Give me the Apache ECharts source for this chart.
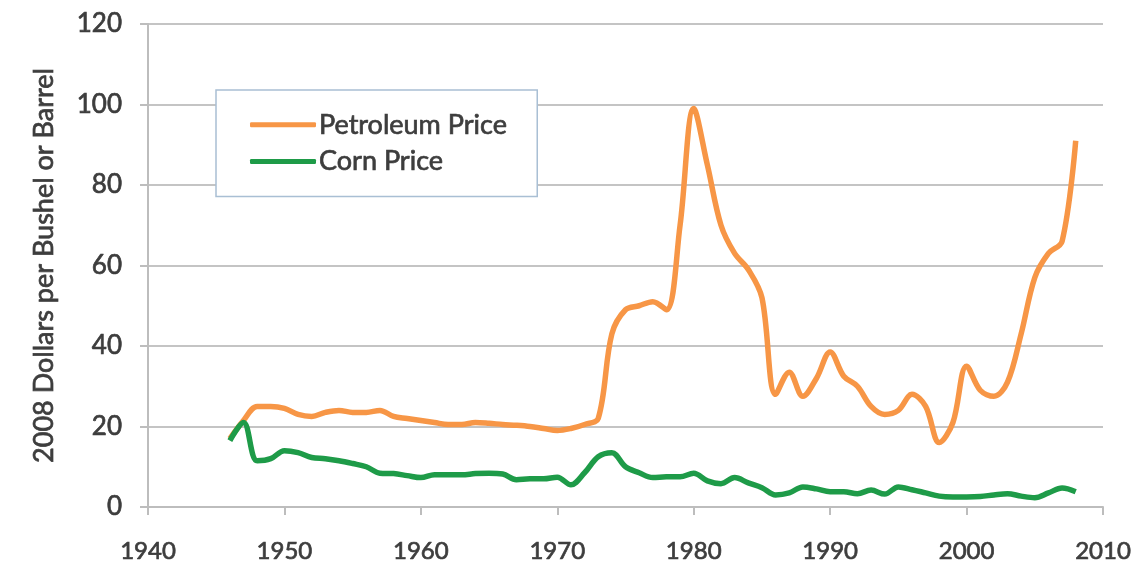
<!DOCTYPE html>
<html>
<head>
<meta charset="utf-8">
<script src="https://cdn.jsdelivr.net/npm/echarts@6/dist/echarts.min.js"></script>
<style>
html,body{margin:0;padding:0;background:#fff;}
#c{width:1140px;height:571px;}
</style>
</head>
<body>
<div id="c"></div>
<script>
const years = [1946,1947,1948,1949,1950,1951,1952,1953,1954,1955,1956,1957,1958,1959,1960,1961,1962,1963,1964,1965,1966,1967,1968,1969,1970,1971,1972,1973,1974,1975,1976,1977,1978,1979,1980,1981,1982,1983,1984,1985,1986,1987,1988,1989,1990,1991,1992,1993,1994,1995,1996,1997,1998,1999,2000,2001,2002,2003,2004,2005,2006,2007,2008];
const petroleum = [17,21.5,25,25,24.5,23,22.5,23.5,24,23.5,23.5,24,22.5,22,21.5,21,20.5,20.5,21,20.8,20.5,20.3,20,19.5,19,19.5,20.5,22,43,49,50,51,49,70,99,85,70,63,59,52,28,33.5,27.5,32,38.5,32.5,30,25,23,24,28,25,16,21,35,29,27.5,31,43,57,63,66,91];
const corn = [16.5,21,11.5,12,14,13.5,12.3,12,11.5,10.8,10,8.4,8.3,7.8,7.3,8,8,8,8.3,8.4,8.2,6.8,7,7,7.4,5.5,8.5,12.5,13.5,10,8.5,7.3,7.5,7.5,8.4,6.5,5.8,7.3,6,4.8,3,3.5,5,4.5,3.8,3.8,3.3,4.2,3.2,5,4.3,3.5,2.7,2.5,2.5,2.6,3,3.3,2.7,2.3,3.5,4.7,3.8];
const seriesNames = ['Petroleum Price','Corn Price'];
const yAxisTitle = '2008 Dollars per Bushel or Barrel';

const font = 'Lato, "Open Sans", sans-serif';
const textColor = '#3d3d3d';
const thick = {textBorderColor:'#3d3d3d',textBorderWidth:0.7};
const chart = echarts.init(document.getElementById('c'));
chart.setOption({
  animation:false,
  backgroundColor:'#fff',
  grid:{left:148,right:37,top:24,bottom:64,containLabel:false},
  legend:{
    show:true,
    orient:'vertical',
    left:216, top:90,
    padding:[21,30,21,34],
    itemGap:9,
    itemWidth:66, itemHeight:5,
    icon:'roundRect',
    borderColor:'#a9bfd4', borderWidth:1.5,
    backgroundColor:'#fff',
    textStyle:Object.assign({fontFamily:font,fontSize:27,color:textColor,padding:[0,0,0,-2]},thick),
    data:seriesNames
  },
  xAxis:{
    type:'value',min:1940,max:2010,interval:10,
    axisLine:{show:true,lineStyle:{color:'#bdbdbd',width:2}},
    axisTick:{show:true,length:8,lineStyle:{color:'#bdbdbd',width:2}},
    splitLine:{show:false},
    axisLabel:Object.assign({fontFamily:font,fontSize:24,color:textColor,margin:32,formatter:v=>String(v)},thick)
  },
  yAxis:{
    type:'value',min:0,max:120,interval:20,
    name:yAxisTitle,nameLocation:'middle',nameGap:90,
    nameTextStyle:Object.assign({fontFamily:font,fontSize:27,color:textColor},thick),
    axisLine:{show:true,lineStyle:{color:'#bdbdbd',width:2}},
    axisTick:{show:true,length:8,lineStyle:{color:'#bdbdbd',width:2}},
    splitLine:{show:true,lineStyle:{color:'#c4c4c4',width:2}},
    axisLabel:Object.assign({fontFamily:font,fontSize:26,color:textColor,margin:26},thick)
  },
  series:[
    {name:seriesNames[0],type:'line',smooth:0.35,showSymbol:false,symbol:'none',
     data:years.map((y,i)=>[y,petroleum[i]]),
     lineStyle:{color:'#F79646',width:5.5},itemStyle:{color:'#F79646'},z:2},
    {name:seriesNames[1],type:'line',smooth:0.35,showSymbol:false,symbol:'none',
     data:years.map((y,i)=>[y,corn[i]]),
     lineStyle:{color:'#1E9B48',width:5.5},itemStyle:{color:'#1E9B48'},z:3}
  ]
});
</script>
</body>
</html>
